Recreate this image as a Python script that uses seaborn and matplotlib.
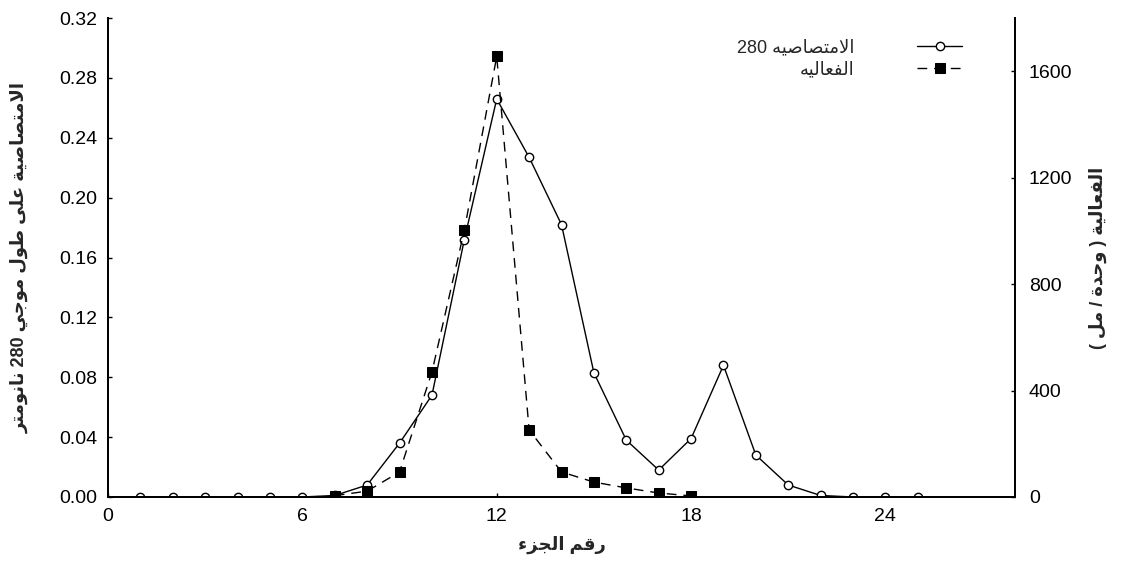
import numpy as np
import pandas as pd
import matplotlib
matplotlib.use("Agg")
import matplotlib.pyplot as plt
import seaborn as sns

# =====================================
# Data
# =====================================

abs_fraction = [1, 2, 3, 4, 5, 6, 7, 8, 9, 10, 11, 12, 13, 14, 15, 16, 17,
                18, 19, 20, 21, 22, 23, 24, 25]
absorbance = [0.0, 0.0, 0.0, 0.0, 0.0, 0.0, 0.001, 0.008, 0.036, 0.068, 0.172,
              0.266, 0.227, 0.182, 0.083, 0.038, 0.018, 0.039, 0.088, 0.028,
              0.008, 0.001, 0.0, 0.0, 0.0]

act_fraction = [7, 8, 9, 10, 11, 12, 13, 14, 15, 16, 17, 18]
activity = [5, 22, 94, 470, 1003, 1656, 252, 94, 56, 34, 15, 4]

x_ticks = [0, 6, 12, 18, 24]
left_ticks = [0.00, 0.04, 0.08, 0.12, 0.16, 0.20, 0.24, 0.28, 0.32]
right_ticks = [0, 400, 800, 1200, 1600]

label_abs = "الامتصاصيه 280"
label_act = "الفعاليه"
xlabel = "رقم الجزء"
ylabel_left = "الامتصاصية على طول موجي 280 نانومتر"
ylabel_right = "الفعالية ( وحدة / مل )"

# =====================================
# Small Arabic shaping (matplotlib has no RTL layout)
# =====================================

FORMS = {
    "ء": ("\uFE80", None, None, None),
    "ا": ("\uFE8D", "\uFE8E", None, None),
    "ة": ("\uFE93", "\uFE94", None, None),
    "ت": ("\uFE95", "\uFE96", "\uFE97", "\uFE98"),
    "ج": ("\uFE9D", "\uFE9E", "\uFE9F", "\uFEA0"),
    "ح": ("\uFEA1", "\uFEA2", "\uFEA3", "\uFEA4"),
    "د": ("\uFEA9", "\uFEAA", None, None),
    "ر": ("\uFEAD", "\uFEAE", None, None),
    "ز": ("\uFEAF", "\uFEB0", None, None),
    "ص": ("\uFEB9", "\uFEBA", "\uFEBB", "\uFEBC"),
    "ط": ("\uFEC1", "\uFEC2", "\uFEC3", "\uFEC4"),
    "ع": ("\uFEC9", "\uFECA", "\uFECB", "\uFECC"),
    "ف": ("\uFED1", "\uFED2", "\uFED3", "\uFED4"),
    "ق": ("\uFED5", "\uFED6", "\uFED7", "\uFED8"),
    "ل": ("\uFEDD", "\uFEDE", "\uFEDF", "\uFEE0"),
    "م": ("\uFEE1", "\uFEE2", "\uFEE3", "\uFEE4"),
    "ن": ("\uFEE5", "\uFEE6", "\uFEE7", "\uFEE8"),
    "ه": ("\uFEE9", "\uFEEA", "\uFEEB", "\uFEEC"),
    "و": ("\uFEED", "\uFEEE", None, None),
    "ى": ("\uFEEF", "\uFEF0", None, None),
    "ي": ("\uFEF1", "\uFEF2", "\uFEF3", "\uFEF4"),
    "لا": ("\uFEFB", "\uFEFC", None, None),
}


def joins_next(tok):
    return tok in FORMS and FORMS[tok][2] is not None


def shape(text):
    toks = []
    i = 0
    while i < len(text):
        if text[i] == "ل" and i + 1 < len(text) and text[i + 1] == "ا":
            toks.append("لا")
            i += 2
        else:
            toks.append(text[i])
            i += 1
    out = []
    for k, t in enumerate(toks):
        if t not in FORMS:
            out.append(t)
            continue
        prev_j = k > 0 and joins_next(toks[k - 1])
        next_j = k + 1 < len(toks) and toks[k + 1] in FORMS and joins_next(t)
        iso, fin, ini, med = FORMS[t]
        if prev_j and next_j:
            out.append(med)
        elif prev_j:
            out.append(fin)
        elif next_j:
            out.append(ini)
        else:
            out.append(iso)
    s = "".join(out)
    # visual order: reverse runs, keep digits left to right
    runs = []
    for ch in s:
        digit = ch.isdigit()
        if runs and runs[-1][0] == digit:
            runs[-1][1] += ch
        else:
            runs.append([digit, ch])
    vis = []
    for digit, r in reversed(runs):
        if digit:
            vis.append(r)
        else:
            r = r[::-1].replace("(", "\0").replace(")", "(").replace("\0", ")")
            vis.append(r)
    return "".join(vis)


# =====================================
# Plot
# =====================================

sns.set_style("ticks")
plt.rcParams["font.family"] = ["Liberation Sans", "DejaVu Sans"]

df_abs = pd.DataFrame({"fraction": abs_fraction, "absorbance": absorbance})
df_act = pd.DataFrame({"fraction": act_fraction, "activity": activity})

fig = plt.figure(figsize=(11.29, 5.67), dpi=100)
ax = fig.add_axes([0.0957, 0.1235, 0.8033, 0.8445])
ax2 = ax.twinx()

sns.lineplot(data=df_abs, x="fraction", y="absorbance", ax=ax,
             color="black", linewidth=1.0, marker="o", markersize=6,
             markerfacecolor="white", markeredgecolor="black",
             markeredgewidth=1.0, label=shape(label_abs), legend=False)

sns.lineplot(data=df_act, x="fraction", y="activity", ax=ax2,
             color="black", linewidth=1.0, linestyle=(0, (7, 5)),
             marker="s", markersize=6.5, markerfacecolor="black",
             markeredgecolor="black", label=shape(label_act), legend=False)

ax.set_xlim(0, 28)
ax.set_ylim(0, 0.32)
ax2.set_ylim(0, 1800)

ax.set_xticks(x_ticks)
ax.set_yticks(left_ticks)
ax.set_yticklabels([f"{v:.2f}" for v in left_ticks])
ax2.set_yticks(right_ticks)

for a in (ax, ax2):
    a.tick_params(direction="in", length=3, width=1, labelsize=14,
                  colors="black")
    a.spines["top"].set_visible(False)
    for s in ("left", "right", "bottom"):
        a.spines[s].set_linewidth(1.3)
        a.spines[s].set_color("black")
ax.tick_params(axis="both", pad=8)
ax2.tick_params(axis="y", pad=10)

ax.set_xlabel(shape(xlabel), fontsize=13, fontweight="bold", labelpad=8)
ax.set_ylabel(shape(ylabel_left), fontsize=13, fontweight="bold", labelpad=22)
ax2.set_ylabel(shape(ylabel_right), fontsize=13, fontweight="bold",
               labelpad=12)

handles = [ax.lines[0], ax2.lines[0]]
ax.legend(handles, [h.get_label() for h in handles], loc="upper right",
          bbox_to_anchor=(0.96, 0.99), frameon=False, markerfirst=False,
          fontsize=13, handlelength=2.5, handletextpad=3.5,
          labelspacing=0.3)

plt.savefig("out.png", dpi=100)
